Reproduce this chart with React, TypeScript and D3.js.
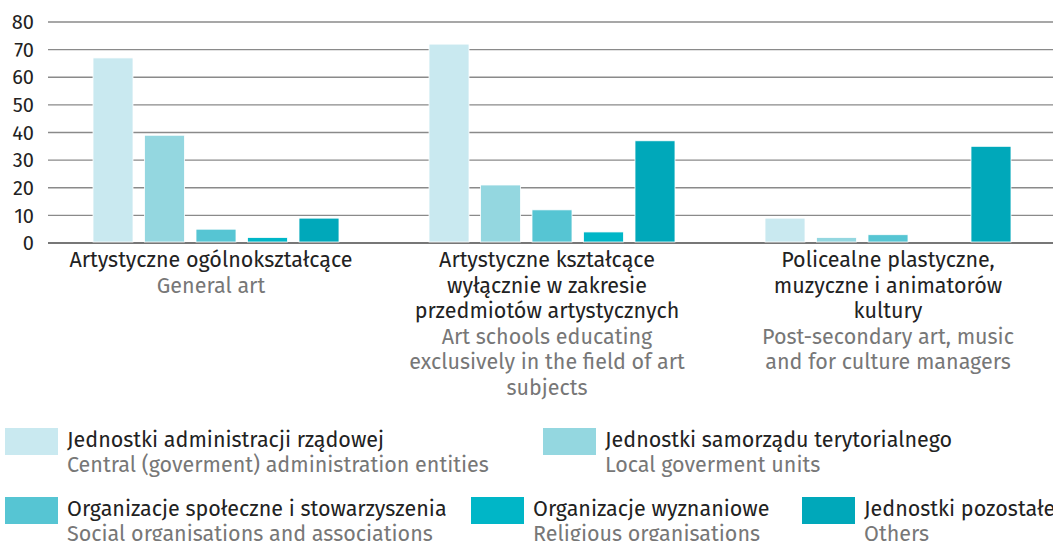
import React from "react";
import * as d3 from "d3";

const categoriesPL: string[][] = [
  ["Artystyczne ogólnokształcące"],
  ["Artystyczne kształcące", "wyłącznie w zakresie", "przedmiotów artystycznych"],
  ["Policealne plastyczne,", "muzyczne i animatorów", "kultury"],
];
const categoriesEN: string[][] = [
  ["General art"],
  ["Art schools educating", "exclusively in the field of art", "subjects"],
  ["Post-secondary art, music", "and for culture managers"],
];
const categoryKeys = ["g1", "g2", "g3"];

const seriesPL = [
  "Jednostki administracji rządowej",
  "Jednostki samorządu terytorialnego",
  "Organizacje społeczne i stowarzyszenia",
  "Organizacje wyznaniowe",
  "Jednostki pozostałe",
];
const seriesEN = [
  "Central (goverment) administration entities",
  "Local goverment units",
  "Social organisations and associations",
  "Religious organisations",
  "Others",
];
const colors = ["#c9e9f0", "#94d7e0", "#56c5d3", "#00b6c7", "#00a8ba"];

// values[series][category]
const central = [67, 72, 9];
const local = [39, 21, 2];
const social = [5, 12, 3];
const religious = [2, 4, 0];
const others = [9, 37, 35];
const values = [central, local, social, religious, others];

const yTicks = [0, 10, 20, 30, 40, 50, 60, 70, 80];

const W = 1053;
const H = 541;
const FONT = "'Fira Sans', 'Noto Sans', sans-serif";

export default function App() {
  const y = d3.scaleLinear().domain([0, 80]).range([243, 22]);
  const x0 = d3.scaleBand<string>().domain(categoryKeys).range([48, 1056]).padding(0);
  const seriesKeys = seriesPL.map((_, i) => String(i));
  const x1 = d3
    .scaleBand<string>()
    .domain(seriesKeys)
    .range([0, x0.bandwidth()])
    .paddingInner(0.2233)
    .paddingOuter(0.874);

  const labelShift = [-5, -5, 0];

  const legendPos = [
    { x: 5, y: 428 },
    { x: 543, y: 428 },
    { x: 5, y: 497 },
    { x: 471, y: 497 },
    { x: 802, y: 497 },
  ];

  return (
    <svg
      width={W}
      height={H}
      style={{ position: "absolute", left: 0, top: 0, background: "#fff" }}
      fontFamily={FONT}
    >
      {yTicks.map((t) => (
        <g key={t}>
          <line
            x1={48}
            x2={W}
            y1={y(t)}
            y2={y(t)}
            stroke={t === 0 ? "#777" : "#8a8a8a"}
            strokeWidth={t === 0 ? 2 : 1.3}
          />
          <text x={34} y={y(t)} dy="0.36em" textAnchor="end" fontSize={20} fill="#222">
            {t}
          </text>
        </g>
      ))}
      {categoryKeys.map((c, ci) =>
        values.map((vals, si) => {
          const v = vals[ci];
          if (v <= 0) return null;
          return (
            <rect
              key={c + si}
              x={(x0(c) ?? 0) + (x1(String(si)) ?? 0)}
              y={y(v)}
              width={x1.bandwidth()}
              height={y(0) - y(v) - 1}
              fill={colors[si]}
              stroke="#fff"
              strokeWidth={0.8}
            />
          );
        })
      )}
      {categoryKeys.map((c, ci) => {
        const cx = (x0(c) ?? 0) + x0.bandwidth() / 2 + labelShift[ci];
        const lines = [
          ...categoriesPL[ci].map((t) => ({ t, en: false })),
          ...categoriesEN[ci].map((t) => ({ t, en: true })),
        ];
        return (
          <g key={c}>
            {lines.map((l, li) => (
              <text
                key={li}
                x={cx}
                y={267 + li * 25.6}
                textAnchor="middle"
                fontSize={21.5}
                fill={l.en ? "#777" : "#222"}
              >
                {l.t}
              </text>
            ))}
          </g>
        );
      })}
      {seriesPL.map((s, i) => {
        const p = legendPos[i];
        return (
          <g key={s}>
            <rect x={p.x} y={p.y} width={53} height={27} fill={colors[i]} />
            <text x={p.x + 62} y={p.y + 19} fontSize={21.5} fill="#222">
              {s}
            </text>
            <text x={p.x + 62} y={p.y + 44} fontSize={21.5} fill="#777">
              {seriesEN[i]}
            </text>
          </g>
        );
      })}
    </svg>
  );
}
